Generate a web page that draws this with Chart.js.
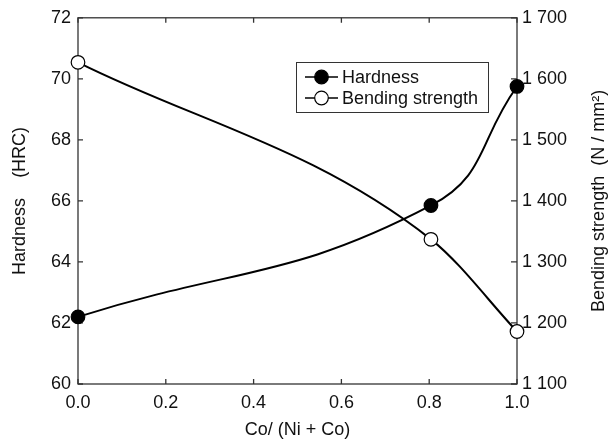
<!DOCTYPE html>
<html>
<head>
<meta charset="utf-8">
<script src="https://cdn.jsdelivr.net/npm/chart.js@4/dist/chart.umd.min.js"></script>
<style>
  html, body { margin: 0; padding: 0; background: #fff; }
  canvas { display: block; }
</style>
</head>
<body>
<canvas id="chart" width="614" height="443"></canvas>
<script>
// Dati
const coRatio = [0, 0.804, 1.0];              // Co/(Ni+Co)
const hardness = [62.2, 65.85, 69.75];         // HRC
const bendingStrength = [1627, 1337, 1186];    // N/mm2

const xTickLabels = ['0.0', '0.2', '0.4', '0.6', '0.8', '1.0'];
const hardnessTicks = ['60', '62', '64', '66', '68', '70', '72'];
const bendingTicks = ['1 100', '1 200', '1 300', '1 400', '1 500', '1 600', '1 700'];

const FONT = '"Liberation Sans", Arial, sans-serif';
const INK = '#111';
const rightTitle = 'Bending strength  (N / mm²)';

// Cornice del grafico e tacche verso l'interno
const frameTicks = {
  id: 'frameTicks',
  beforeDatasetsDraw(chart) {
    const { ctx, chartArea: a, scales } = chart;
    ctx.save();
    ctx.strokeStyle = '#333';
    ctx.lineWidth = 1.3;
    ctx.strokeRect(a.left, a.top, a.right - a.left, a.bottom - a.top);
    ctx.beginPath();
    scales.x.ticks.forEach(t => {
      const px = scales.x.getPixelForValue(t.value);
      ctx.moveTo(px, a.bottom); ctx.lineTo(px, a.bottom - 5);
      ctx.moveTo(px, a.top); ctx.lineTo(px, a.top + 5);
    });
    scales.y.ticks.forEach(t => {
      const py = scales.y.getPixelForValue(t.value);
      ctx.moveTo(a.left, py); ctx.lineTo(a.left + 5, py);
    });
    scales.y1.ticks.forEach(t => {
      const py = scales.y1.getPixelForValue(t.value);
      ctx.moveTo(a.right, py); ctx.lineTo(a.right - 6, py);
    });
    ctx.stroke();

    // Titolo asse destro, letto dal basso verso l'alto
    ctx.translate(599, (a.top + a.bottom) / 2);
    ctx.rotate(-Math.PI / 2);
    ctx.fillStyle = INK;
    ctx.font = '18px ' + FONT;
    ctx.textAlign = 'center';
    ctx.textBaseline = 'middle';
    ctx.fillText(rightTitle, 0, 0);
    ctx.restore();
  },
  // Legenda con linea e marcatore
  afterDatasetsDraw(chart) {
    const { ctx } = chart;
    const box = { x: 296.5, y: 62.5, w: 192, h: 50 };
    ctx.save();
    ctx.fillStyle = '#fff';
    ctx.fillRect(box.x, box.y, box.w, box.h);
    ctx.strokeStyle = '#333';
    ctx.lineWidth = 1;
    ctx.strokeRect(box.x, box.y, box.w, box.h);
    chart.data.datasets.forEach((ds, i) => {
      const y = 77 + i * 21;
      ctx.strokeStyle = '#000';
      ctx.lineWidth = 1.6;
      ctx.beginPath();
      ctx.moveTo(305, y); ctx.lineTo(338, y);
      ctx.stroke();
      ctx.beginPath();
      ctx.arc(321.5, y, ds.pointRadius, 0, Math.PI * 2);
      ctx.fillStyle = ds.pointBackgroundColor;
      ctx.fill();
      ctx.lineWidth = ds.pointBorderWidth;
      ctx.stroke();
      ctx.fillStyle = INK;
      ctx.font = '18px ' + FONT;
      ctx.textBaseline = 'middle';
      ctx.fillText(ds.label, 342, y + 1);
    });
    ctx.restore();
  }
};

const ctx = document.getElementById('chart').getContext('2d');
const chart = new Chart(ctx, {
  type: 'line',
  data: {
    datasets: [{
      label: 'Hardness',
      data: coRatio.map((x, i) => ({ x: x, y: hardness[i] })),
      yAxisID: 'y',
      borderColor: '#000',
      borderWidth: 2,
      tension: 0.45,
      pointRadius: 6.8,
      pointBackgroundColor: '#000',
      pointBorderColor: '#000',
      pointBorderWidth: 1.2,
      clip: false
    }, {
      label: 'Bending strength',
      data: coRatio.map((x, i) => ({ x: x, y: bendingStrength[i] })),
      yAxisID: 'y1',
      borderColor: '#000',
      borderWidth: 2,
      cubicInterpolationMode: 'monotone',
      pointRadius: 6.8,
      pointBackgroundColor: '#fff',
      pointBorderColor: '#000',
      pointBorderWidth: 1.2,
      clip: false
    }]
  },
  options: {
    responsive: false,
    animation: false,
    devicePixelRatio: 1,
    layout: { padding: { top: 17, left: 0, right: 0, bottom: 0 } },
    plugins: {
      legend: { display: false },
      tooltip: { enabled: false }
    },
    scales: {
      x: {
        type: 'linear',
        min: 0, max: 1,
        grid: { display: false, drawTicks: false },
        border: { display: false },
        ticks: {
          stepSize: 0.2,
          padding: 8,
          color: INK,
          font: { family: FONT, size: 18 },
          callback: (v, i) => xTickLabels[i]
        },
        title: {
          display: true,
          text: 'Co/ (Ni + Co)',
          color: INK,
          font: { family: FONT, size: 18 },
          padding: { top: 0, bottom: 2 }
        },
        afterFit: s => { s.height = 59; }
      },
      y: {
        position: 'left',
        min: 60, max: 72,
        grid: { display: false, drawTicks: false },
        border: { display: false },
        ticks: {
          stepSize: 2,
          padding: 7,
          color: INK,
          font: { family: FONT, size: 18 },
          callback: (v, i) => hardnessTicks[i]
        },
        title: {
          display: true,
          text: 'Hardness    (HRC)',
          color: INK,
          font: { family: FONT, size: 18 },
          padding: { top: 9, bottom: 0 }
        },
        afterFit: s => { s.width = 78; }
      },
      y1: {
        position: 'right',
        min: 1100, max: 1700,
        grid: { display: false, drawTicks: false },
        border: { display: false },
        ticks: {
          stepSize: 100,
          padding: 5,
          color: INK,
          font: { family: FONT, size: 18 },
          callback: (v, i) => bendingTicks[i]
        },
        title: { display: false },
        afterFit: s => { s.width = 97; }
      }
    }
  },
  plugins: [frameTicks]
});
</script>
</body>
</html>
